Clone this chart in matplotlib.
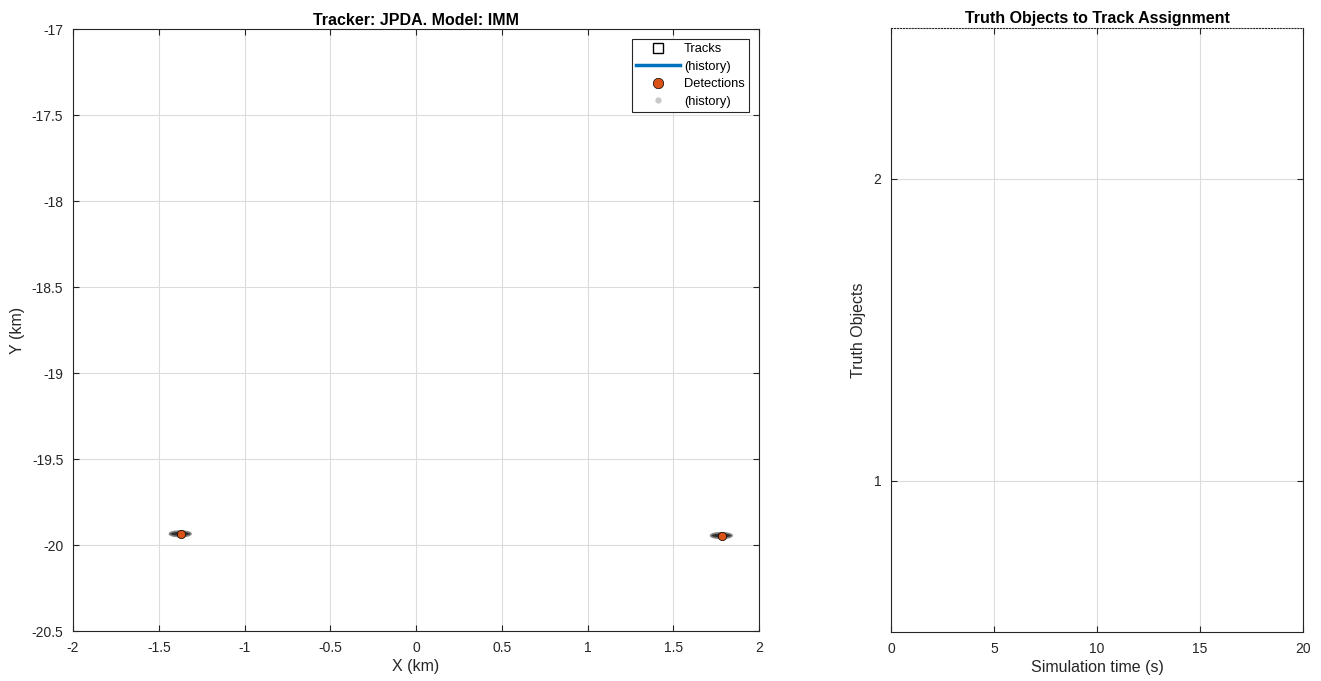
import matplotlib
matplotlib.use("Agg")
import matplotlib.pyplot as plt
from matplotlib.patches import Ellipse
from matplotlib.lines import Line2D

plt.rcParams['font.family'] = ['Liberation Sans', 'DejaVu Sans']

# Data
det_x = [-1.37, 1.785]
det_y = [-19.935, -19.945]
trk_x = [-1.375, 1.78]
trk_y = [-19.935, -19.945]
ell_w = [0.125, 0.125]
ell_h = [0.032, 0.032]

left_xticks = [-2, -1.5, -1, -0.5, 0, 0.5, 1, 1.5, 2]
left_yticks = [-20.5, -20, -19.5, -19, -18.5, -18, -17.5, -17]
right_xticks = [0, 5, 10, 15, 20]
right_yticks = [1, 2]

blue = (0, 0.447, 0.741)
orange = (0.85, 0.325, 0.098)
tc = '#262626'
gc = '#dcdcdc'

fig = plt.figure(figsize=(13.21, 6.81), dpi=100)
ax1 = fig.add_axes([0.0553, 0.0734, 0.5193, 0.884])
ax2 = fig.add_axes([0.6745, 0.0720, 0.3119, 0.8874])

for ax in (ax1, ax2):
    ax.grid(True, color=gc, linewidth=0.8)
    ax.set_axisbelow(True)
    ax.tick_params(direction='in', length=4, labelsize=10, colors=tc, top=True, right=True)
    ax.tick_params(axis='x', pad=7)
    for s in ax.spines.values():
        s.set_color(tc)
        s.set_linewidth(0.8)
ax1.tick_params(axis='y', pad=7)
ax2.tick_params(axis='y', pad=7)

# Left
for x, y, w, h in zip(trk_x, trk_y, ell_w, ell_h):
    ax1.add_patch(Ellipse((x, y), w, h, facecolor='#222222', edgecolor='#808080', lw=1.2, alpha=0.95, zorder=3))
ax1.plot(det_x, det_y, 'o', color=orange, markeredgecolor='black', markeredgewidth=0.5, markersize=6, zorder=4)
ax1.set_xlim(-2, 2)
ax1.set_ylim(-20.5, -17)
ax1.set_xticks(left_xticks)
ax1.set_xticklabels([f'{v:g}' for v in left_xticks])
ax1.set_yticks(left_yticks)
ax1.set_yticklabels([f'{v:g}' for v in left_yticks])
ax1.set_xlabel('X (km)', fontsize=11.5, color=tc, labelpad=3)
ax1.set_ylabel('Y (km)', fontsize=11.5, color=tc, labelpad=5)
ax1.set_title('Tracker: JPDA. Model: IMM', fontsize=11.5, fontweight='bold', color='black', pad=3)

handles = [
    Line2D([], [], linestyle='none', marker='s', markerfacecolor='white', markeredgecolor='black', markersize=6.5),
    Line2D([], [], color=blue, linewidth=2.5),
    Line2D([], [], linestyle='none', marker='o', markerfacecolor=orange, markeredgecolor='black', markeredgewidth=0.5, markersize=7.5),
    Line2D([], [], linestyle='none', marker='o', markerfacecolor='#c8c8c8', markeredgecolor='#c8c8c8', markersize=3.5),
]
labels = ['Tracks', '(history)', 'Detections', '(history)']
leg = ax1.legend(handles, labels, loc='upper right', fontsize=9.3, frameon=True, fancybox=False,
                 edgecolor=tc, framealpha=1, handlelength=3.4, handletextpad=0.3,
                 labelspacing=0.42, borderpad=0.35, borderaxespad=0.75)
leg.get_frame().set_linewidth(0.8)

# Right
ax2.set_xlim(0, 20)
ax2.set_ylim(0.5, 2.5)
ax2.set_xticks(right_xticks)
ax2.set_yticks(right_yticks)
ax2.set_xlabel('Simulation time (s)', fontsize=11.5, color=tc, labelpad=3)
ax2.set_ylabel('Truth Objects', fontsize=11.5, color=tc, labelpad=5)
ax2.set_title('Truth Objects to Track Assignment', fontsize=11.5, fontweight='bold', color='black', pad=3)
ax2.spines['top'].set_linestyle(':')

fig.savefig('out.png', dpi=100)
